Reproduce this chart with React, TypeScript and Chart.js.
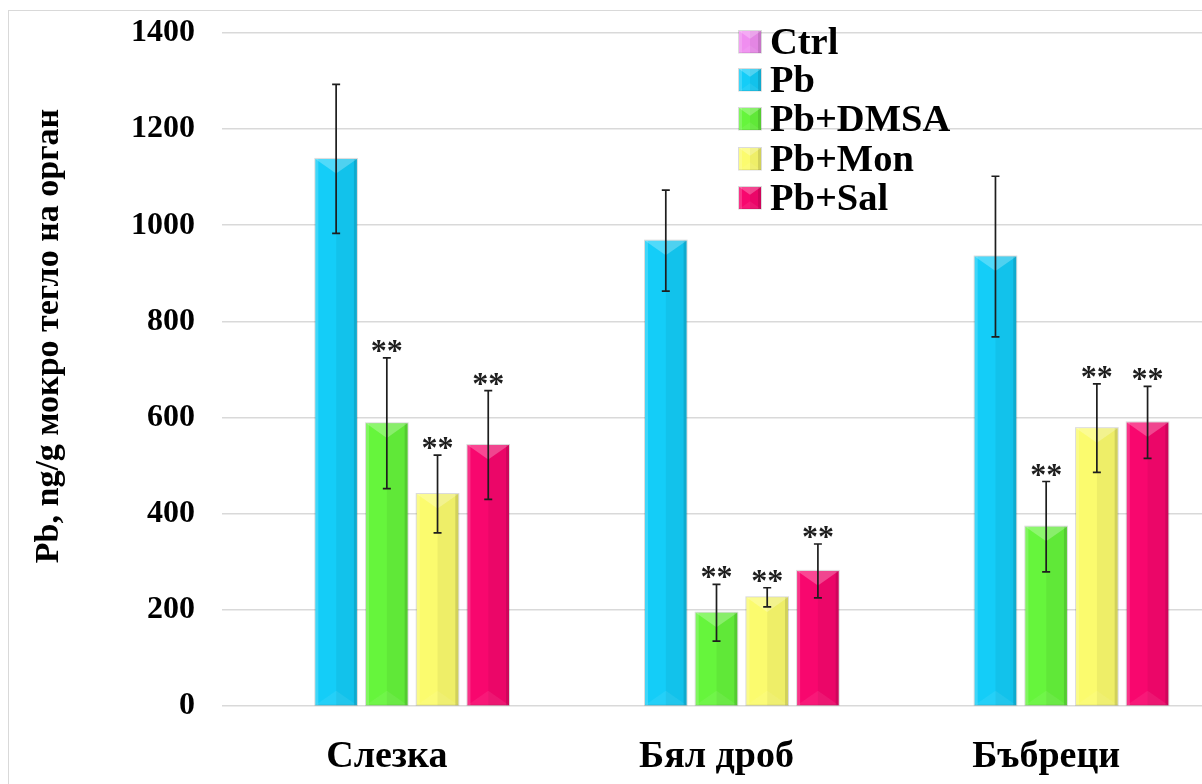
import React, { useEffect, useRef } from 'react';
import { Chart, registerables } from 'chart.js';

Chart.register(...registerables);

// Lead content per organ (ng/g wet weight), mean and error
const categories = ['Слезка', 'Бял дроб', 'Бъбреци'];
const seriesNames = ['Ctrl', 'Pb', 'Pb+DMSA', 'Pb+Mon', 'Pb+Sal'];

const ctrlValues = [0, 0, 0];
const pbValues = [1138, 968, 935];
const dmsaValues = [588, 194, 373];
const monValues = [441, 226, 578];
const salValues = [543, 281, 590];

const ctrlErrors = [0, 0, 0];
const pbErrors = [155, 105, 167];
const dmsaErrors = [136, 59, 94];
const monErrors = [81, 20, 92];
const salErrors = [113, 56, 75];

// significance marks shown above each bar
const ctrlMarks = ['', '', ''];
const pbMarks = ['', '', ''];
const dmsaMarks = ['**', '**', '**'];
const monMarks = ['**', '**', '**'];
const salMarks = ['**', '**', '**'];

const yTicks = [0, 200, 400, 600, 800, 1000, 1200, 1400];
const yTitle = 'Pb, ng/g мокро тегло на орган';

const seriesColors = ['#f08ef0', '#14cdf8', '#66f53c', '#fbfb6e', '#f8076e'];

const valueSets = [ctrlValues, pbValues, dmsaValues, monValues, salValues];
const errorSets = [ctrlErrors, pbErrors, dmsaErrors, monErrors, salErrors];
const markSets = [ctrlMarks, pbMarks, dmsaMarks, monMarks, salMarks];

const SERIF = '"Liberation Serif", "Times New Roman", serif';

function drawBevel(ctx: CanvasRenderingContext2D, x0: number, x1: number, top: number, bottom: number) {
  const w = x1 - x0;
  const h = bottom - top;
  const cx = (x0 + x1) / 2;
  const d = Math.min(w * 0.35, h / 2);
  ctx.save();
  // right facet
  ctx.fillStyle = 'rgba(0,0,0,0.05)';
  ctx.fillRect(cx, top, x1 - cx, h);
  // right edge
  ctx.fillStyle = 'rgba(0,0,0,0.12)';
  ctx.fillRect(x1 - 3, top, 3, h);
  // left edge highlight
  ctx.fillStyle = 'rgba(255,255,255,0.18)';
  ctx.fillRect(x0, top, 3, h);
  // top facet
  ctx.beginPath();
  ctx.moveTo(x0, top);
  ctx.lineTo(x1, top);
  ctx.lineTo(cx, top + d);
  ctx.closePath();
  ctx.fillStyle = 'rgba(255,255,255,0.26)';
  ctx.fill();
  // bottom facet
  ctx.beginPath();
  ctx.moveTo(x0, bottom);
  ctx.lineTo(x1, bottom);
  ctx.lineTo(cx, bottom - d);
  ctx.closePath();
  ctx.fillStyle = 'rgba(255,255,255,0.07)';
  ctx.fill();
  // soft outline
  ctx.strokeStyle = 'rgba(0,0,0,0.14)';
  ctx.lineWidth = 1;
  ctx.strokeRect(x0 - 0.5, top - 0.5, w + 1, h + 0.5);
  ctx.restore();
}

const decorPlugin = {
  id: 'decor',
  afterDatasetsDraw(chart: any) {
    const ctx: CanvasRenderingContext2D = chart.ctx;
    const yScale = chart.scales.y;
    const bars: any[] = [];
    chart.data.datasets.forEach((_ds: any, di: number) => {
      const meta = chart.getDatasetMeta(di);
      meta.data.forEach((bar: any, i: number) => {
        const p = bar.getProps(['x', 'y', 'base', 'width'], true);
        bars.push({ di, i, ...p });
        if (p.base - p.y >= 1) {
          drawBevel(ctx, p.x - p.width / 2, p.x + p.width / 2, p.y, p.base);
        }
      });
    });
    // error bars and significance marks
    ctx.save();
    bars.forEach((b) => {
      const v = valueSets[b.di][b.i];
      const e = errorSets[b.di][b.i];
      if (!e) return;
      const yTop = yScale.getPixelForValue(v + e);
      const yBot = yScale.getPixelForValue(v - e);
      ctx.strokeStyle = '#1e1e1e';
      ctx.lineWidth = 1.7;
      ctx.beginPath();
      ctx.moveTo(b.x, yTop);
      ctx.lineTo(b.x, yBot);
      ctx.moveTo(b.x - 4, yTop);
      ctx.lineTo(b.x + 4, yTop);
      ctx.moveTo(b.x - 4, yBot);
      ctx.lineTo(b.x + 4, yBot);
      ctx.stroke();
      const mark = markSets[b.di][b.i];
      if (mark) {
        ctx.fillStyle = '#1e1e1e';
        ctx.font = `bold 32px ${SERIF}`;
        ctx.textAlign = 'center';
        ctx.textBaseline = 'alphabetic';
        ctx.fillText(mark, b.x, yTop + 3);
      }
    });
    ctx.restore();
  },
  afterDraw(chart: any) {
    const ctx: CanvasRenderingContext2D = chart.ctx;
    const xScale = chart.scales.x;
    ctx.save();
    // category labels
    ctx.fillStyle = '#000';
    ctx.font = `bold 38px ${SERIF}`;
    ctx.textAlign = 'center';
    ctx.textBaseline = 'alphabetic';
    categories.forEach((c, i) => {
      ctx.fillText(c, xScale.getPixelForValue(i), 767);
    });
    // axis title
    ctx.save();
    ctx.translate(49, 336);
    ctx.rotate(-Math.PI / 2);
    ctx.font = `bold 34px ${SERIF}`;
    ctx.textAlign = 'center';
    ctx.textBaseline = 'middle';
    ctx.fillText(yTitle, 0, 0);
    ctx.restore();
    // legend
    const rows = [42, 80, 119, 159, 198];
    seriesNames.forEach((name, k) => {
      const cy = rows[k];
      const s = 22;
      const x0 = 739;
      const y0 = cy - s / 2;
      ctx.fillStyle = seriesColors[k];
      ctx.fillRect(x0, y0, s, s);
      drawBevel(ctx, x0, x0 + s, y0, y0 + s);
      ctx.fillStyle = '#000';
      ctx.font = `bold 38.5px ${SERIF}`;
      ctx.textAlign = 'left';
      ctx.textBaseline = 'alphabetic';
      ctx.fillText(name, 770, cy + 12);
    });
    ctx.restore();
  },
};

export default function App() {
  const canvasRef = useRef<HTMLCanvasElement | null>(null);

  useEffect(() => {
    if (!canvasRef.current) return;
    const chart = new Chart(canvasRef.current, {
      type: 'bar',
      data: {
        labels: categories,
        datasets: seriesNames.map((name, k) => ({
          label: name,
          data: valueSets[k],
          backgroundColor: seriesColors[k],
          borderWidth: 0,
          categoryPercentage: 0.769,
          barPercentage: 0.82,
        })),
      },
      options: {
        responsive: false,
        animation: false,
        events: [],
        layout: { padding: { top: 33, right: 9, left: 0, bottom: 0 } },
        plugins: {
          legend: { display: false },
          tooltip: { enabled: false },
          title: { display: false },
        },
        scales: {
          x: {
            grid: { display: false },
            border: { display: false },
            ticks: { display: false },
            afterFit: (s: any) => {
              s.height = 78;
            },
          },
          y: {
            min: 0,
            max: 1400,
            afterBuildTicks: (s: any) => {
              s.ticks = yTicks.map((v) => ({ value: v }));
            },
            grid: { color: '#d9d9d9', lineWidth: 1.6, drawTicks: false },
            border: { display: false },
            ticks: {
              padding: 27,
              color: '#000',
              font: { family: SERIF, size: 32, weight: 'bold' },
              callback: (v: any) => String(v),
            },
            afterFit: (s: any) => {
              s.width = 222;
              s.paddingTop = 0;
              s.paddingBottom = 0;
            },
          },
        },
      },
      plugins: [decorPlugin],
    });
    return () => chart.destroy();
  }, []);

  return (
    <div
      style={{
        position: 'fixed',
        left: 0,
        top: 0,
        width: 1202,
        height: 784,
        overflow: 'hidden',
        background: '#fff',
      }}
    >
      <div
        style={{
          position: 'absolute',
          left: 8,
          top: 10,
          width: 1400,
          height: 1000,
          border: '1px solid #d9d9d9',
        }}
      />
      <canvas
        ref={canvasRef}
        width={1220}
        height={784}
        style={{ position: 'absolute', left: 0, top: 0, width: 1220, height: 784 }}
      />
    </div>
  );
}
